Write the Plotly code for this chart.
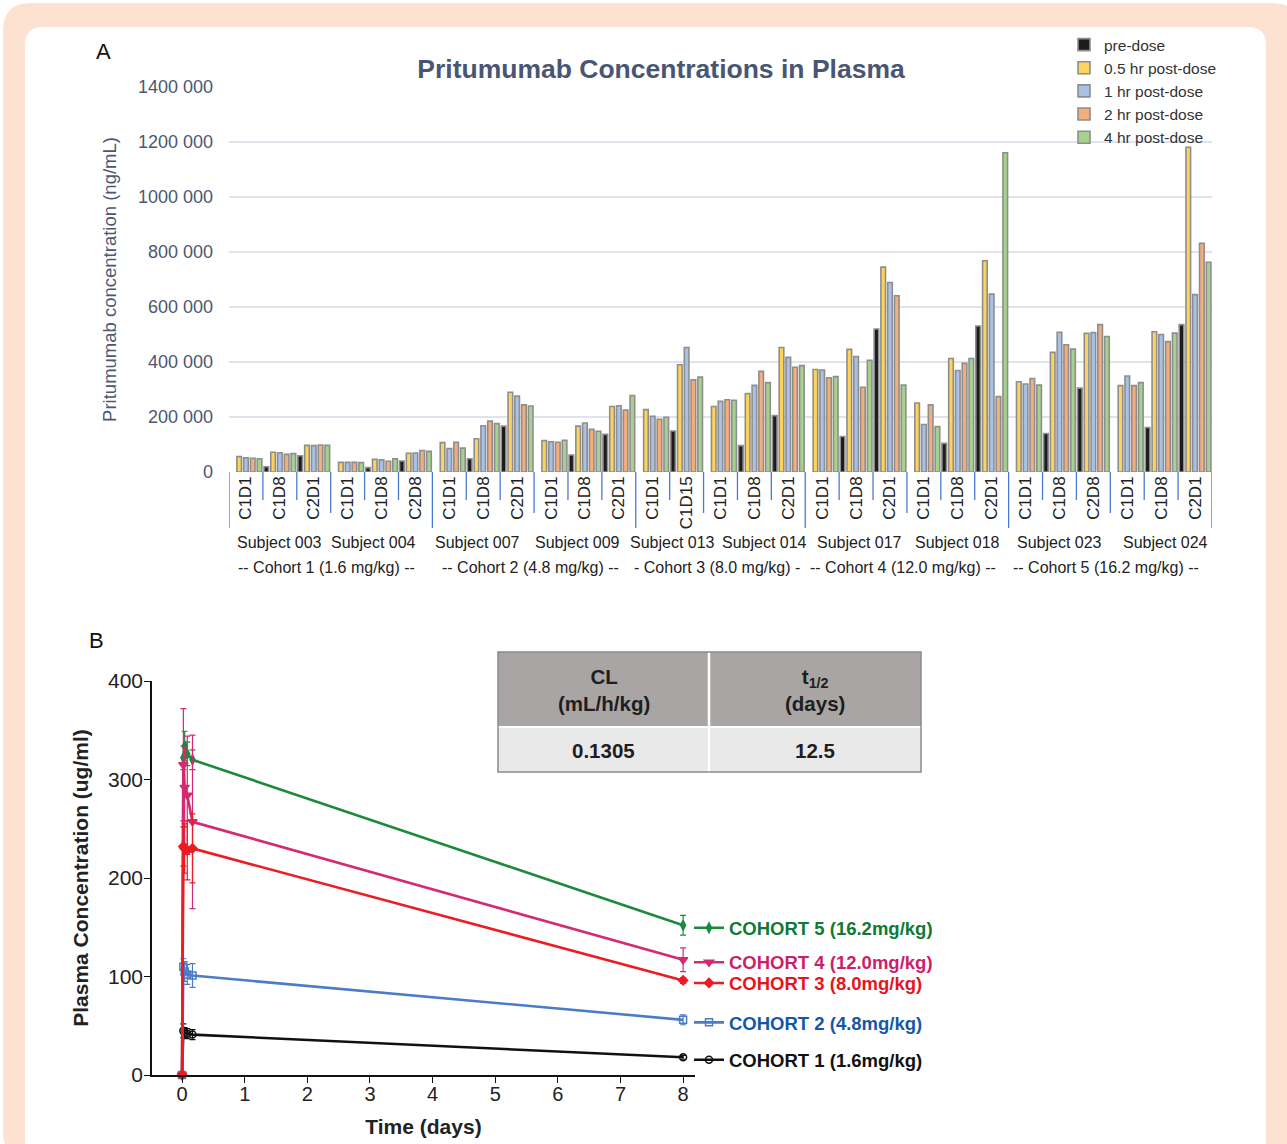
import plotly.graph_objects as go

W, H = 1287, 1144
FONT = "Liberation Sans, Arial, Helvetica, sans-serif"

# ---------------- Panel A data ----------------
series_names = ["pre-dose", "0.5 hr post-dose", "1 hr post-dose", "2 hr post-dose", "4 hr post-dose"]
series_colors = ["#1c1c1c", "#fdd35c", "#aac1e6", "#f5ad7c", "#a7d28d"]

subjects = ["Subject 003", "Subject 004", "Subject 007", "Subject 009", "Subject 013",
            "Subject 014", "Subject 017", "Subject 018", "Subject 023", "Subject 024"]
subject_cohort = [0, 0, 1, 1, 2, 2, 3, 3, 4, 4]
cohort_labels = ["-- Cohort 1 (1.6 mg/kg) --", "-- Cohort 2 (4.8 mg/kg) --",
                 "- Cohort 3 (8.0 mg/kg) -", "-- Cohort 4 (12.0 mg/kg) --",
                 "-- Cohort 5 (16.2 mg/kg) --"]
subject_visits = [
    ["C1D1", "C1D8", "C2D1"],
    ["C1D1", "C1D8", "C2D8"],
    ["C1D1", "C1D8", "C2D1"],
    ["C1D1", "C1D8", "C2D1"],
    ["C1D1", "C1D15"],
    ["C1D1", "C1D8", "C2D1"],
    ["C1D1", "C1D8", "C2D1"],
    ["C1D1", "C1D8", "C2D1"],
    ["C1D1", "C1D8", "C2D8"],
    ["C1D1", "C1D8", "C2D1"],
]

# concentrations (ng/mL), one entry per subject-visit in the order above
pre_dose = [None, 19000, 59000, None, 16000, 40000, None, 48000, 167000, None, 62000, 137000,
            None, 149000, None, 96000, 205000, None, 129000, 520000, None, 104000, 531000,
            None, 140000, 305000, None, 162000, 536000]
hr_05 = [56000, 72000, 97000, 35000, 46000, 68000, 107000, 121000, 290000, 114000, 167000, 238000,
         227000, 390000, 238000, 285000, 453000, 373000, 446000, 745000, 251000, 413000, 768000,
         328000, 435000, 504000, 314000, 510000, 1181000]
hr_1 = [52000, 70000, 96000, 35000, 44000, 69000, 85000, 168000, 276000, 110000, 178000, 241000,
        203000, 453000, 257000, 315000, 417000, 371000, 420000, 689000, 173000, 369000, 647000,
        320000, 508000, 507000, 349000, 500000, 645000]
hr_2 = [50000, 64000, 98000, 35000, 39000, 78000, 108000, 185000, 244000, 108000, 155000, 225000,
        192000, 335000, 263000, 366000, 381000, 343000, 308000, 641000, 244000, 395000, 274000,
        340000, 463000, 536000, 314000, 474000, 832000]
hr_4 = [48000, 67000, 97000, 34000, 48000, 75000, 87000, 176000, 240000, 115000, 148000, 278000,
        199000, 345000, 261000, 325000, 387000, 347000, 406000, 316000, 165000, 413000, 1161000,
        316000, 447000, 493000, 325000, 505000, 763000]
series_values = [pre_dose, hr_05, hr_1, hr_2, hr_4]

a_tickvals = [0, 200000, 400000, 600000, 800000, 1000000, 1200000, 1400000]
a_ticktext = ["0", "200 000", "400 000", "600 000", "800 000", "1000 000", "1200 000", "1400 000"]

# ---------------- Panel B data ----------------
time_days = [0, 0.0208, 0.0417, 0.0833, 0.1667, 8]
cohort_names = ["COHORT 1 (1.6mg/kg)", "COHORT 2 (4.8mg/kg)", "COHORT 3 (8.0mg/kg)",
                "COHORT 4 (12.0mg/kg)", "COHORT 5 (16.2mg/kg)"]
conc_c1 = [0, 45, 43, 42, 41, 18]
conc_c2 = [0, 110, 105, 102, 101, 56]
conc_c3 = [0, 232, 230, 228, 230, 96]
conc_c4 = [0, 315, 292, 284, 257, 117]
conc_c5 = [0, 322, 334, 326, 320, 152]
err_c1 = [0, 7, 5, 5, 5, 2]
err_c2 = [0, 8, 10, 10, 12, 5]
err_c3 = [0, 20, 25, 30, 35, 3]
err_c4 = [0, 57, 40, 60, 88, 12]
err_c5 = [0, 12, 15, 12, 10, 10]
b_ytick = [0, 100, 200, 300, 400]
b_xtick = [0, 1, 2, 3, 4, 5, 6, 7, 8]

# PK summary table
table_header = ["CL<br>(mL/h/kg)", "t<sub>1/2</sub><br>(days)"]
table_values = ["0.1305", "12.5"]


def px_x(p):
    return p / W


def px_y(p):
    return 1 - p / H


fig = go.Figure()

# ---- Panel A bars ----
cat_keys = []
cat_visit = []
cat_subject_idx = []
for si, (subj, vis) in enumerate(zip(subjects, subject_visits)):
    for v in vis:
        cat_keys.append(subj + "|" + v)
        cat_visit.append(v)
        cat_subject_idx.append(si)

for name, vals, col in zip(series_names, series_values, series_colors):
    fig.add_trace(go.Bar(
        x=cat_keys, y=vals, name=name, xaxis="x", yaxis="y", legend="legend",
        marker=dict(color=col, line=dict(color="#8e8e8e", width=1.6)),
    ))

# ---- Panel B lines ----
b_series = [
    (0, conc_c1, err_c1, "#111111", "#111111", "circle-open", 7),
    (1, conc_c2, err_c2, "#4a7cc8", "#1457a8", "square-open", 7),
    (4, conc_c5, err_c5, "#1a8a3c", "#0f7a35", "diamond-tall", 7),
    (3, conc_c4, err_c4, "#d42a74", "#cc1f6a", "triangle-down", 8),
    (2, conc_c3, err_c3, "#ec1c24", "#e8141c", "diamond", 7),
]
ya_bot, ya_top = px_y(1075), px_y(681)
for k, conc, err, col, tcol, sym, ms in b_series:
    lg = "legend%d" % (k + 2)
    fig.add_trace(go.Scatter(
        x=time_days, y=conc, name=cohort_names[k], xaxis="x2", yaxis="y2",
        mode="lines+markers", legend=lg, cliponaxis=False,
        line=dict(color=col, width=2.6),
        marker=dict(symbol=sym, size=ms, color=col, line=dict(color=col, width=1.5)),
        error_y=dict(type="data", array=err, color=col, thickness=1.2, width=3),
    ))
    yv = ya_bot + (conc[-1] / 400.0) * (ya_top - ya_bot)
    fig.update_layout(**{lg: dict(
        x=px_x(689), y=yv - 3 / H, xanchor="left", yanchor="middle",
        bgcolor="rgba(0,0,0,0)", borderwidth=0,
        font=dict(family=FONT, size=18.5, color=tcol, weight="bold"),
    )})


def rrect(x0, y0, x1, y1, r):
    pts = [("M", x0 + r, y0), ("L", x1 - r, y0), ("Q", x1, y0, x1, y0 + r), ("L", x1, y1 - r),
           ("Q", x1, y1, x1 - r, y1), ("L", x0 + r, y1), ("Q", x0, y1, x0, y1 - r),
           ("L", x0, y0 + r), ("Q", x0, y0, x0 + r, y0)]
    s = ""
    for p in pts:
        cmd = p[0]
        coords = p[1:]
        s += cmd + " " + ",".join(
            "%.5f,%.5f" % (px_x(coords[i]), px_y(coords[i + 1])) for i in range(0, len(coords), 2)) + " "
    return s + "Z"


def prect(x0, y0, x1, y1, **kw):
    d = dict(type="rect", xref="paper", yref="paper", x0=px_x(x0), x1=px_x(x1), y0=px_y(y1), y1=px_y(y0))
    d.update(kw)
    return d


# table geometry (px)
tbl_x0, tbl_x1, tbl_top, tbl_mid, tbl_bot = 498, 921, 652, 727, 772
tbl_split = 709

shapes = [
    dict(type="path", xref="paper", yref="paper", layer="below", path=rrect(3, 3, 1300, 1160, 28),
         fillcolor="#fde2d2", line=dict(width=0)),
    dict(type="path", xref="paper", yref="paper", layer="below", path=rrect(25, 27, 1266, 1170, 18),
         fillcolor="white", line=dict(width=0)),
    # table
    prect(tbl_x0, tbl_top, tbl_x1, tbl_mid - 1, fillcolor="#a9a5a4", line=dict(width=0)),
    prect(tbl_x0, tbl_mid + 1, tbl_x1, tbl_bot, fillcolor="#e9e9e9", line=dict(width=0)),
    dict(type="line", xref="paper", yref="paper", x0=px_x(tbl_split), x1=px_x(tbl_split),
         y0=px_y(tbl_top), y1=px_y(tbl_bot), line=dict(color="white", width=2.5)),
    prect(tbl_x0, tbl_top, tbl_x1, tbl_bot, line=dict(color="#8a8a8a", width=1.5)),
]

# category boundary dividers (Panel A)
n = len(cat_keys)
for b in range(n + 1):
    left = cat_subject_idx[b - 1] if b > 0 else None
    right = cat_subject_idx[b] if b < n else None
    if left is None or right is None or subject_cohort[left] != subject_cohort[right]:
        bottom = 528
    elif left != right:
        bottom = 513
    else:
        bottom = 500
    shapes.append(dict(type="line", xref="x", yref="paper", x0=b - 0.5, x1=b - 0.5,
                       y0=px_y(472), y1=px_y(bottom), line=dict(color="#4a7bd0", width=1.3)))

annotations = [
    dict(text="A", x=px_x(103), y=px_y(52), xref="paper", yref="paper", showarrow=False,
         xanchor="center", yanchor="middle", font=dict(family=FONT, size=22, color="#111")),
    dict(text="B", x=px_x(96), y=px_y(640), xref="paper", yref="paper", showarrow=False,
         xanchor="center", yanchor="middle", font=dict(family=FONT, size=22, color="#111")),
]
# table text
col_centers = [(tbl_x0 + tbl_split) / 2, (tbl_split + tbl_x1) / 2]
for cx, htxt, vtxt in zip(col_centers, table_header, table_values):
    annotations.append(dict(text=htxt, x=px_x(cx), y=px_y(690), xref="paper", yref="paper",
                            showarrow=False, xanchor="center", yanchor="middle", align="center",
                            font=dict(family=FONT, size=20.5, color="#1e1e1e", weight="bold")))
    annotations.append(dict(text=vtxt, x=px_x(cx), y=px_y(750), xref="paper", yref="paper",
                            showarrow=False, xanchor="center", yanchor="middle", align="center",
                            font=dict(family=FONT, size=20.5, color="#1e1e1e", weight="bold")))

# subject and cohort labels (small nudges keep neighbouring labels apart, as in the original)
label_nudge = {"Subject 004": -8, "Subject 007": -6, "Subject 009": -7, "Subject 013": 3,
               "Subject 014": 10, "Subject 017": 3, "Subject 024": 4}
for si, subj in enumerate(subjects):
    idx = [i for i, s in enumerate(cat_subject_idx) if s == si]
    annotations.append(dict(text=subj, x=sum(idx) / len(idx), y=px_y(542), xref="x", yref="paper",
                            showarrow=False, xanchor="center", yanchor="middle",
                            xshift=label_nudge.get(subj, 0),
                            font=dict(family=FONT, size=16, color="#222")))
for ci, clab in enumerate(cohort_labels):
    idx = [i for i, s in enumerate(cat_subject_idx) if subject_cohort[s] == ci]
    annotations.append(dict(text=clab, x=(min(idx) + max(idx)) / 2, y=px_y(567), xref="x", yref="paper",
                            showarrow=False, xanchor="center", yanchor="middle", xshift=-4,
                            font=dict(family=FONT, size=16, color="#222")))

slate = "#4c5772"
fig.update_layout(
    width=W, height=H, margin=dict(l=0, r=0, t=0, b=0, autoexpand=False),
    paper_bgcolor="white", plot_bgcolor="rgba(0,0,0,0)",
    font=dict(family=FONT, color="#222"),
    barmode="group", bargap=0.0, bargroupgap=0.32,
    title=dict(text="Pritumumab Concentrations in Plasma", x=px_x(661), y=px_y(69),
               xanchor="center", yanchor="middle",
               font=dict(family=FONT, size=26.5, color="#485674", weight="bold")),
    xaxis=dict(domain=[px_x(229), px_x(1212)], anchor="y", type="category", automargin=False,
               categoryorder="array", categoryarray=cat_keys, range=[-0.5, n - 0.5],
               tickvals=cat_keys, ticktext=cat_visit, tickangle=-90, ticks="",
               tickfont=dict(family=FONT, size=17, color="#222"), showgrid=False, showline=False,
               zeroline=False),
    yaxis=dict(domain=[px_y(472), px_y(87)], anchor="x", range=[0, 1400000], automargin=False,
               tickvals=a_tickvals, ticktext=a_ticktext, ticks="", ticklabelstandoff=15,
               tickfont=dict(family=FONT, size=18, color=slate),
               showgrid=True, gridcolor="#dfe4ec", gridwidth=1.6, zeroline=False, showline=False,
               title=dict(text="Pritumumab concentration (ng/mL)", standoff=16,
                          font=dict(family=FONT, size=18.5, color=slate))),
    xaxis2=dict(domain=[px_x(152), px_x(695)], anchor="y2", range=[-0.48, 8.19], automargin=False,
                tickvals=b_xtick, ticks="outside", ticklen=6, tickwidth=1.3, tickcolor="#111",
                ticklabelstandoff=-6,
                showline=True, linecolor="#111", linewidth=1.5, showgrid=False, zeroline=False,
                tickfont=dict(family=FONT, size=20, color="#222"),
                title=dict(text="Time (days)", standoff=16,
                           font=dict(family=FONT, size=21, color="#222", weight="bold"))),
    yaxis2=dict(domain=[ya_bot, ya_top], anchor="x2", range=[0, 400], automargin=False,
                tickvals=b_ytick, ticks="outside", ticklen=6, tickwidth=1.3, tickcolor="#111",
                ticklabelstandoff=-3,
                showline=True, linecolor="#111", linewidth=1.5, showgrid=False, zeroline=False,
                tickfont=dict(family=FONT, size=21, color="#222"),
                title=dict(text="Plasma Concentration (ug/ml)", standoff=14,
                           font=dict(family=FONT, size=21, color="#222", weight="bold"))),
    legend=dict(x=px_x(1064), y=px_y(28), xanchor="left", yanchor="top",
                bgcolor="rgba(0,0,0,0)", tracegroupgap=0,
                font=dict(family=FONT, size=15.5, color="#333")),
    shapes=shapes, annotations=annotations,
)

fig.write_html("out.html", config={"displayModeBar": False},
               post_script="document.body.style.margin='0';document.body.style.overflow='hidden';")
